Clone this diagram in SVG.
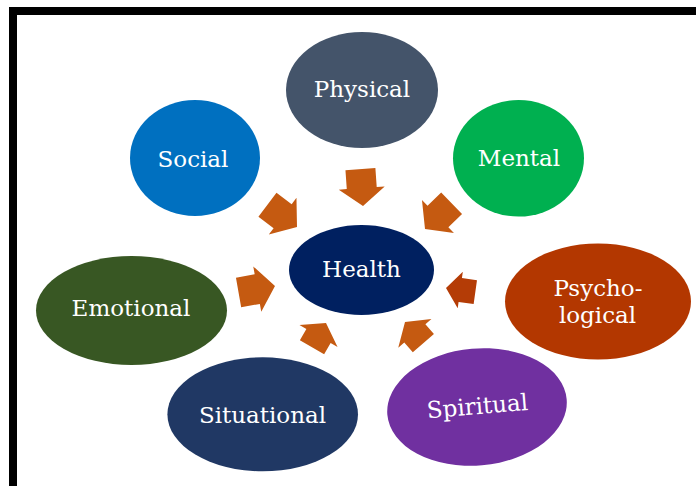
<svg xmlns="http://www.w3.org/2000/svg" xmlns:xlink="http://www.w3.org/1999/xlink" width="696" height="486" viewBox="0 0 696 486">
  <style>
    .lbl { font-family: "DejaVu Serif", "Liberation Serif", serif; font-size: 23px; fill: #ffffff; text-anchor: middle; }
    .arr { fill: #C55A11; }
    .arr-dark { fill: #B43C06; }
  </style>
  <defs>
    <path id="a1" d="M0,0 L-18,-23 L-18,-15 L-37,-15 L-37,15 L-18,15 L-18,23 Z"/>
    <path id="a2" d="M0,0 L-15,-22 L-15,-14 L-28,-14 L-28,14 L-15,14 L-15,22 Z"/>
  </defs>
  <rect x="0" y="0" width="696" height="486" fill="#ffffff"/>
  <g id="frame" fill="#000000">
    <rect x="9" y="7" width="687" height="8"/>
    <rect x="9" y="7" width="8" height="479"/>
  </g>
  <g id="connectors">
    <use xlink:href="#a1" class="arr" transform="translate(363,206) rotate(86)"/>
    <use xlink:href="#a1" class="arr" transform="translate(297,227) rotate(37)"/>
    <use xlink:href="#a1" class="arr" transform="translate(425,229) rotate(136)"/>
    <use xlink:href="#a1" class="arr" transform="translate(275,286) rotate(-10)"/>
    <use xlink:href="#a1" class="arr-dark" transform="translate(446,288) rotate(188) scale(0.8)"/>
    <use xlink:href="#a2" class="arr" transform="translate(326,323) rotate(-60)"/>
    <use xlink:href="#a2" class="arr" transform="translate(405,322) rotate(-131)"/>
  </g>
  <g id="physical">
    <ellipse cx="362" cy="90" rx="76" ry="58" fill="#44546A"/>
    <text class="lbl" x="362" y="97">Physical</text>
  </g>
  <g id="social">
    <ellipse cx="195" cy="158" rx="65" ry="58" fill="#0070C0"/>
    <text class="lbl" x="193" y="167">Social</text>
  </g>
  <g id="mental">
    <ellipse cx="518.5" cy="158.3" rx="65.5" ry="58.3" fill="#00B050"/>
    <text class="lbl" x="519" y="166">Mental</text>
  </g>
  <g id="health">
    <ellipse cx="361.5" cy="270" rx="72.5" ry="45" fill="#002060"/>
    <text class="lbl" x="361.5" y="277">Health</text>
  </g>
  <g id="emotional">
    <ellipse cx="131.5" cy="310.5" rx="95.5" ry="54.5" fill="#385723"/>
    <text class="lbl" x="131" y="316">Emotional</text>
  </g>
  <g id="psychological">
    <ellipse cx="598" cy="301.5" rx="93" ry="58" fill="#B33700"/>
    <text class="lbl" x="598" y="296">Psycho-</text>
    <text class="lbl" x="597.5" y="323">logical</text>
  </g>
  <g id="situational">
    <ellipse cx="262.7" cy="414.3" rx="95.3" ry="57" fill="#203864"/>
    <text class="lbl" x="262.5" y="423">Situational</text>
  </g>
  <g id="spiritual">
    <ellipse cx="477" cy="407" rx="90" ry="58.5" fill="#7030A0" transform="rotate(-5 477 407)"/>
    <text class="lbl" x="478" y="414" transform="rotate(-4.8 478 414)">Spiritual</text>
  </g>
</svg>
